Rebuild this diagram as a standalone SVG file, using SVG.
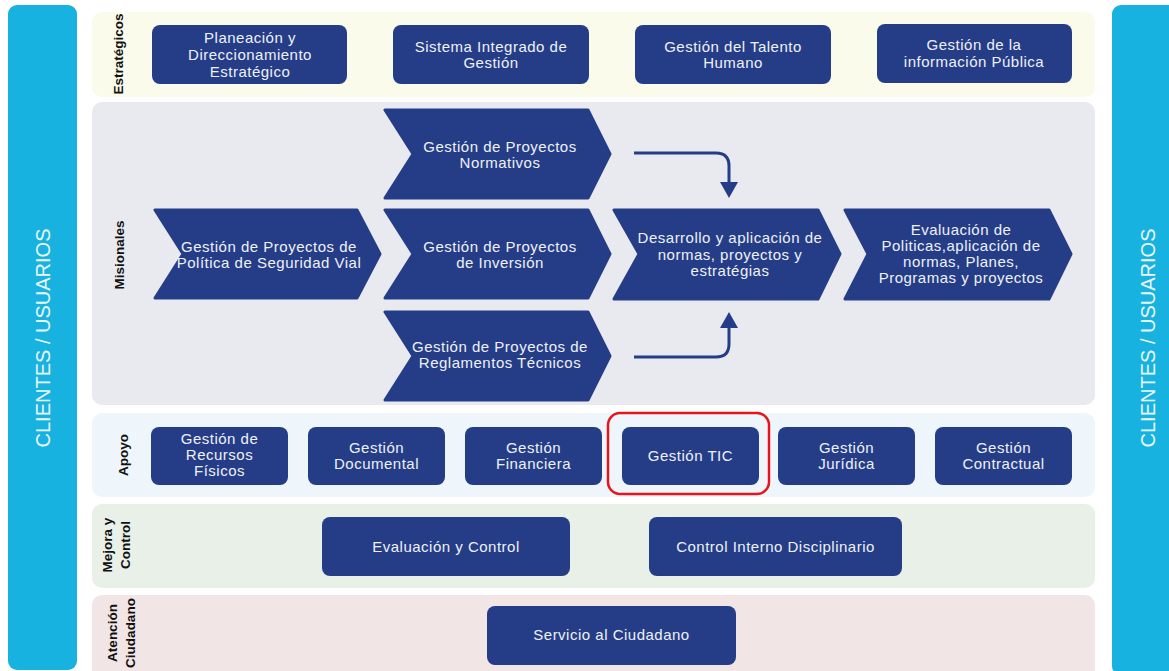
<svg xmlns="http://www.w3.org/2000/svg" width="1169" height="671" viewBox="0 0 1169 671">
<defs>
<style>
.bar{fill:#17b2e0}
.box{fill:#253d87}
.chev{fill:#253d87;stroke:#253d87;stroke-width:3;stroke-linejoin:round}
.t{font-family:"Liberation Sans",Arial,sans-serif;font-size:15px;letter-spacing:0.5px;fill:#eef1f8;text-anchor:middle}
.lbl{font-family:"Liberation Sans",Arial,sans-serif;font-size:13.5px;font-weight:bold;fill:#111;text-anchor:middle}
.side{font-family:"Liberation Sans",Arial,sans-serif;font-size:20px;fill:#eaf7fc;text-anchor:middle}
.conn{fill:none;stroke:#253d87;stroke-width:3}
</style>
<marker id="arr" viewBox="0 0 16 18" refX="0" refY="9" markerWidth="16" markerHeight="18" markerUnits="userSpaceOnUse" orient="auto">
<path d="M0,0 L16,9 L0,18 Z" fill="#253d87"/>
</marker>
</defs>
<rect width="1169" height="671" fill="#ffffff"/>

<g id="bands">
<rect x="92" y="12" width="1003" height="85" rx="10" fill="#fbfbec"/>
<rect x="92" y="102" width="1003" height="303" rx="10" fill="#e9eaef"/>
<rect x="92" y="413" width="1003" height="84" rx="10" fill="#eef6fb"/>
<rect x="92" y="504" width="1003" height="84" rx="10" fill="#e8f0e8"/>
<rect x="92" y="595" width="1003" height="85" rx="10" fill="#f1e5e5"/>
<text class="lbl" transform="translate(123,54) rotate(-90)">Estratégicos</text>
<text class="lbl" transform="translate(124,255) rotate(-90)">Misionales</text>
<text class="lbl" transform="translate(128,455) rotate(-90)">Apoyo</text>
<text class="lbl" transform="translate(112,545) rotate(-90)">Mejora y</text>
<text class="lbl" transform="translate(130,545) rotate(-90)">Control</text>
<text class="lbl" transform="translate(117,633) rotate(-90)">Atención</text>
<text class="lbl" transform="translate(135,633) rotate(-90)">Ciudadano</text>
</g>

<g id="clientes-izq">
<rect class="bar" x="8" y="5" width="69" height="665" rx="9"/>
<text class="side" transform="translate(50,338) rotate(-90)">CLIENTES / USUARIOS</text>
</g>
<g id="clientes-der">
<rect class="bar" x="1112" y="5" width="65" height="670" rx="9"/>
<text class="side" transform="translate(1155,338) rotate(-90)">CLIENTES / USUARIOS</text>
</g>

<g id="planeacion">
<rect class="box" x="152" y="25" width="195" height="59" rx="8"/>
<text class="t" x="250" y="43">Planeación y</text>
<text class="t" x="250" y="60">Direccionamiento</text>
<text class="t" x="250" y="77">Estratégico</text>
</g>
<g id="sig">
<rect class="box" x="393" y="25" width="196" height="59" rx="8"/>
<text class="t" x="491" y="52">Sistema Integrado de</text>
<text class="t" x="491" y="68">Gestión</text>
</g>
<g id="talento">
<rect class="box" x="635" y="25" width="196" height="59" rx="8"/>
<text class="t" x="733" y="52">Gestión del Talento</text>
<text class="t" x="733" y="68">Humano</text>
</g>
<g id="informacion">
<rect class="box" x="877" y="24" width="195" height="59" rx="8"/>
<text class="t" x="974" y="50">Gestión de la</text>
<text class="t" x="974" y="67">información Pública</text>
</g>

<g id="normativos">
<path class="chev" d="M385,110 L588,110 L610,154 L588,198 L385,198 L413,154 Z"/>
<text class="t" x="500" y="152">Gestión de Proyectos</text>
<text class="t" x="500" y="168">Normativos</text>
</g>
<g id="inversion">
<path class="chev" d="M385,210 L588,210 L610,254 L588,298 L385,298 L413,254 Z"/>
<text class="t" x="500" y="252">Gestión de Proyectos</text>
<text class="t" x="500" y="268">de Inversión</text>
</g>
<g id="reglamentos">
<path class="chev" d="M385,312 L588,312 L610,356 L588,400 L385,400 L413,356 Z"/>
<text class="t" x="500" y="352">Gestión de Proyectos de</text>
<text class="t" x="500" y="368">Reglamentos Técnicos</text>
</g>
<g id="politica">
<path class="chev" d="M155,210 L357,210 L380,254 L357,298 L155,298 L183,254 Z"/>
<text class="t" x="269" y="252">Gestión de Proyectos de</text>
<text class="t" x="269" y="268">Política de Seguridad Vial</text>
</g>
<g id="desarrollo">
<path class="chev" d="M614,210 L818,210 L840,254 L818,299 L614,299 L639,254 Z"/>
<text class="t" x="730" y="243">Desarrollo y aplicación de</text>
<text class="t" x="730" y="260">normas, proyectos y</text>
<text class="t" x="730" y="276">estratégias</text>
</g>
<g id="evaluacion-politicas">
<path class="chev" d="M845,210 L1049,210 L1071,254 L1049,299 L845,299 L868,254 Z"/>
<text class="t" x="961" y="235">Evaluación de</text>
<text class="t" x="961" y="251">Politicas,aplicación de</text>
<text class="t" x="961" y="267">normas, Planes,</text>
<text class="t" x="961" y="283">Programas y proyectos</text>
</g>

<g id="connectors">
<path class="conn" d="M634,153 H716 Q729,153 729,166 V182" marker-end="url(#arr)"/>
<path class="conn" d="M634,357 H716 Q729,357 729,344 V328" marker-end="url(#arr)"/>
</g>

<g id="recursos">
<rect class="box" x="151" y="427" width="137" height="58" rx="8"/>
<text class="t" x="219.5" y="444">Gestión de</text>
<text class="t" x="219.5" y="460">Recursos</text>
<text class="t" x="219.5" y="476">Físicos</text>
</g>
<g id="documental">
<rect class="box" x="308" y="427" width="137" height="58" rx="8"/>
<text class="t" x="376.5" y="453">Gestión</text>
<text class="t" x="376.5" y="469">Documental</text>
</g>
<g id="financiera">
<rect class="box" x="465" y="427" width="137" height="58" rx="8"/>
<text class="t" x="533.5" y="453">Gestión</text>
<text class="t" x="533.5" y="469">Financiera</text>
</g>
<g id="tic">
<rect class="box" x="622" y="427" width="137" height="58" rx="8"/>
<text class="t" x="690.5" y="461">Gestión TIC</text>
<rect x="608" y="413" width="161" height="81" rx="12" fill="none" stroke="#e8141c" stroke-width="2.5"/>
</g>
<g id="juridica">
<rect class="box" x="778" y="427" width="137" height="58" rx="8"/>
<text class="t" x="846.5" y="453">Gestión</text>
<text class="t" x="846.5" y="469">Jurídica</text>
</g>
<g id="contractual">
<rect class="box" x="935" y="427" width="137" height="58" rx="8"/>
<text class="t" x="1003.5" y="453">Gestión</text>
<text class="t" x="1003.5" y="469">Contractual</text>
</g>

<g id="evaluacion-control">
<rect class="box" x="322" y="517" width="248" height="59" rx="8"/>
<text class="t" x="446" y="552">Evaluación y Control</text>
</g>
<g id="control-interno">
<rect class="box" x="649" y="517" width="253" height="59" rx="8"/>
<text class="t" x="775.5" y="552">Control Interno Disciplinario</text>
</g>
<g id="servicio">
<rect class="box" x="487" y="606" width="249" height="59" rx="8"/>
<text class="t" x="611.5" y="640">Servicio al Ciudadano</text>
</g>
</svg>
